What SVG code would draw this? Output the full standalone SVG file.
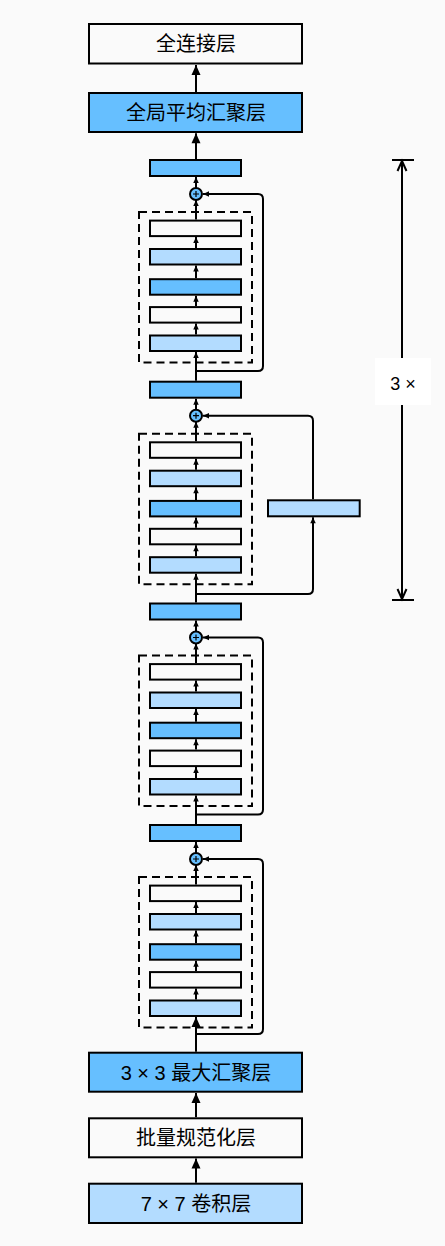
<svg xmlns="http://www.w3.org/2000/svg" width="445" height="1246" viewBox="0 0 445 1246">
  <style>
    .box { stroke: #000; stroke-width: 2; }
    .white { fill: #fafafa; }
    .dark { fill: #66bfff; }
    .light { fill: #b3dcff; }
    .dash { fill: none; stroke: #000; stroke-width: 2; stroke-dasharray: 8 5; }
    .line { fill: none; stroke: #000; stroke-width: 2; }
    .big { marker-end: url(#bigArrow); }
    .small { marker-end: url(#smallArrow); }
    .label { font-family: "Liberation Sans", "Noto Sans CJK SC", sans-serif; font-size: 20px; text-anchor: middle; fill: #000; }
  </style>
  <defs>
    <marker id="bigArrow" markerUnits="userSpaceOnUse" markerWidth="12" markerHeight="10" refX="10" refY="4.5" orient="auto" overflow="visible">
      <path d="M0,0 L10,4.5 L0,9 z" fill="#000"/>
    </marker>
    <marker id="smallArrow" markerUnits="userSpaceOnUse" markerWidth="8" markerHeight="8" refX="6" refY="2.75" orient="auto" overflow="visible">
      <path d="M0,0 L6,2.75 L0,5.5 z" fill="#000"/>
    </marker>
    <marker id="openArrow" markerUnits="userSpaceOnUse" markerWidth="12" markerHeight="12" refX="10" refY="4.5" orient="auto-start-reverse" overflow="visible">
      <path d="M0,0 L10,4.5 L0,9" fill="none" stroke="#000" stroke-width="2"/>
    </marker>
    <!-- one residual stage, drawn relative to the top edge of its output bar -->
    <g id="stageBody">
      <rect class="box dark" x="150" y="1" width="91" height="16"/>
      <rect class="dash" x="139" y="53" width="113" height="150.5"/>
      <rect class="box white" x="150" y="61.6" width="91" height="15.5"/>
      <rect class="box light" x="150" y="90" width="91" height="15.5"/>
      <rect class="box dark" x="150" y="120.2" width="91" height="15.5"/>
      <rect class="box white" x="150" y="148.1" width="91" height="15.5"/>
      <rect class="box light" x="150" y="176.5" width="91" height="15.5"/>
      <circle class="box dark" cx="196" cy="35" r="6"/>
      <path d="M193 35 H199 M196 32 V38" stroke="#000" stroke-width="1.2"/>
    </g>
    <g id="stageLinks">
      <path class="line small" d="M196 29 V18"/>
      <path class="line small" d="M196 60.6 V41"/>
      <path class="line small" d="M196 89 V78.1"/>
      <path class="line small" d="M196 119.2 V106.5"/>
      <path class="line small" d="M196 147.1 V136.7"/>
      <path class="line small" d="M196 175.5 V164.6"/>
    </g>
  </defs>

  <rect width="445" height="1246" fill="#fafafa"/>

  <!-- layer blocks -->
  <g id="fc">
    <rect class="box white" x="89" y="24" width="213" height="39.5"/>
    <text class="label" x="196" y="51">全连接层</text>
  </g>
  <g id="global-avg-pool">
    <rect class="box dark" x="89" y="93" width="213" height="39"/>
    <text class="label" x="196" y="119.5">全局平均汇聚层</text>
  </g>
  <g id="stage-1" transform="translate(0,159)"><use href="#stageBody"/></g>
  <g id="stage-2" transform="translate(0,380.7)"><use href="#stageBody"/></g>
  <g id="stage-2-shortcut-conv">
    <rect class="box light" x="268" y="500.3" width="91.7" height="16"/>
  </g>
  <g id="stage-3" transform="translate(0,602.5)"><use href="#stageBody"/></g>
  <g id="stage-4" transform="translate(0,824)"><use href="#stageBody"/></g>
  <g id="max-pool">
    <rect class="box dark" x="89" y="1052.7" width="213" height="39"/>
    <text class="label" x="196" y="1079.5">3 × 3 最大汇聚层</text>
  </g>
  <g id="batch-norm">
    <rect class="box white" x="89" y="1118.3" width="213" height="39"/>
    <text class="label" x="196" y="1145">批量规范化层</text>
  </g>
  <g id="conv7">
    <rect class="box light" x="89" y="1183.7" width="213" height="39.3"/>
    <text class="label" x="196" y="1210.5">7 × 7 卷积层</text>
  </g>

  <!-- connectors -->
  <g id="connectors">
    <path class="line big" d="M196 92 V65"/>
    <path class="line big" d="M196 159 V133.2"/>
    <g transform="translate(0,159)"><use href="#stageLinks"/></g>
    <g transform="translate(0,380.7)"><use href="#stageLinks"/></g>
    <g transform="translate(0,602.5)"><use href="#stageLinks"/></g>
    <g transform="translate(0,824)"><use href="#stageLinks"/></g>

    <!-- trunk between stages -->
    <path class="line small" d="M196 380.7 V352"/>
    <path class="line small" d="M196 602.5 V573.7"/>
    <path class="line small" d="M196 824 V795.5"/>
    <path class="line big" d="M196 1051.7 V1017"/>

    <!-- identity shortcuts -->
    <path class="line small" d="M196 371 H258 Q263 371 263 366 V199 Q263 194 258 194 H203"/>
    <path class="line small" d="M196 814.5 H258 Q263 814.5 263 809.5 V642.5 Q263 637.5 258 637.5 H203"/>
    <path class="line small" d="M196 1034 H258 Q263 1034 263 1029 V864 Q263 859 258 859 H203"/>

    <!-- projection shortcut through the 1x1 block -->
    <path class="line small" d="M196 594 H308 Q313 594 313 589 V517.3"/>
    <path class="line small" d="M313 499.3 V420.7 Q313 415.7 308 415.7 H203"/>

    <path class="line big" d="M196 1117.3 V1093"/>
    <path class="line big" d="M196 1182.7 V1158.6"/>
  </g>

  <!-- repeat count -->
  <g id="repeat-marker">
    <path d="M392 160 H414 M392 600 H414" stroke="#000" stroke-width="2"/>
    <path d="M402 161 V599" stroke="#000" stroke-width="2" marker-start="url(#openArrow)" marker-end="url(#openArrow)"/>
    <rect x="375" y="358" width="56" height="47" fill="#ffffff"/>
    <text x="403" y="389.5" font-family="Liberation Sans, sans-serif" font-size="18" text-anchor="middle">3 ×</text>
  </g>
</svg>
